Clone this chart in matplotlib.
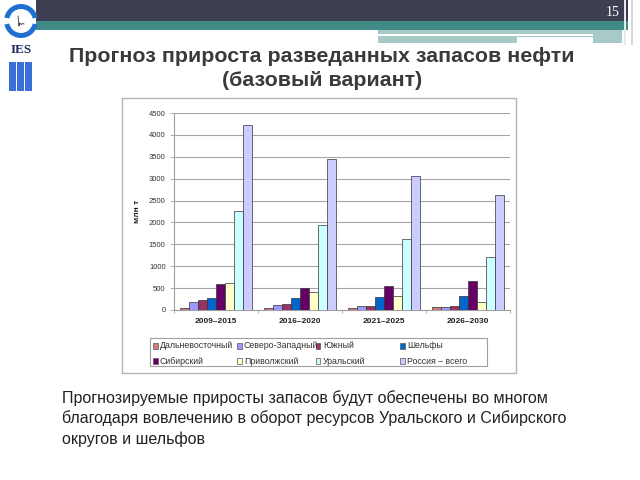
import numpy as np
import matplotlib
matplotlib.use("Agg")
import matplotlib.pyplot as plt
from matplotlib.patches import Rectangle, Wedge

plt.rcParams['font.family'] = ['Liberation Sans', 'DejaVu Sans']

# Data (млн т)
periods = ['2009–2015', '2016–2020', '2021–2025', '2026–2030']
series_names = ['Дальневосточный', 'Северо-Западный', 'Южный', 'Шельфы',
                'Сибирский', 'Приволжский', 'Уральский', 'Россия – всего']
far_east = [55, 50, 50, 70]
north_west = [175, 120, 100, 70]
south = [220, 140, 100, 80]
shelf = [275, 280, 300, 320]
siberia = [605, 500, 540, 660]
volga = [625, 400, 320, 190]
ural = [2260, 1950, 1630, 1210]
russia = [4230, 3440, 3050, 2630]
series_values = [far_east, north_west, south, shelf, siberia, volga, ural, russia]
colors = ['#d47a7a', '#9999ff', '#993366', '#0066cc',
          '#660066', '#ffffcc', '#ccffff', '#ccccff']

W, H = 640, 480
fig = plt.figure(figsize=(6.4, 4.8), dpi=100)

def fx(x):
    return x / W

def fy(y):
    return 1 - y / H

def frect(x0, y0, x1, y1, **kw):
    fig.patches.append(Rectangle((fx(x0), fy(y1)), fx(x1) - fx(x0), fy(y0) - fy(y1),
                                 transform=fig.transFigure, figure=fig, **kw))

# Slide header
frect(36, 0, 628, 21, facecolor='#3e3f52', edgecolor='none')
frect(36, 21, 628, 30, facecolor='#418a85', edgecolor='none')
frect(378, 30, 622, 43, facecolor='#a8cac7', edgecolor='none')
frect(378, 34, 593, 36, facecolor='white', edgecolor='none')
frect(517, 37, 593, 43, facecolor='white', edgecolor='none')
frect(624, 0, 626, 45, facecolor='#e8e8e8', edgecolor='none')
frect(631, 0, 633, 45, facecolor='#d8d8d8', edgecolor='none')
fig.text(fx(620), fy(13), '15', color='white', fontsize=10, ha='right', va='center',
         family='Liberation Serif')

# Logo
frect(0, 0, 36, 96, facecolor='white', edgecolor='none')
lax = fig.add_axes([fx(2), fy(40), fx(40) - fx(2), fy(2) - fy(40)])
lax.set_zorder(10)
lax.patch.set_alpha(0)
lax.set_xlim(-19, 19)
lax.set_ylim(-19, 19)
lax.set_aspect('equal')
lax.axis('off')
for a0, a1 in [(12, 168), (192, 348)]:
    lax.add_patch(Wedge((0, 0), 17, a0, a1, width=5, facecolor='#1f6fd2', edgecolor='none'))
lax.plot([-3, -2, -1.5, 0.5, 1.5, 3], [5, -5, -2, -3.5, -2.5, -3], color='#333333', lw=0.6)
fig.text(fx(21), fy(50), 'IES', color='#1b2a5a', fontsize=9.5, fontweight='bold',
         ha='center', va='center', family='Liberation Serif')
for x0 in [9, 17, 25]:
    frect(x0, 62, x0 + 7, 91, facecolor='#3a6fd8', edgecolor='none')

# Title
fig.text(fx(322), fy(57), 'Прогноз прироста разведанных запасов нефти', fontsize=15.4,
         fontweight='bold', color='#3a3a3a', ha='center', va='center')
fig.text(fx(322), fy(80), '(базовый вариант)', fontsize=15.4,
         fontweight='bold', color='#3a3a3a', ha='center', va='center')

# Chart frame
frect(122, 98, 516, 373, facecolor='white', edgecolor='#b4b4b4', lw=1, zorder=-5)

ax = fig.add_axes([fx(174), fy(310), fx(510) - fx(174), fy(113) - fy(310)])
ax.set_zorder(5)
n_series = len(series_values)
bar_w = 1 / (n_series + 1.4)
x = np.arange(len(periods))
for i, (vals, c) in enumerate(zip(series_values, colors)):
    ax.bar(x - n_series * bar_w / 2 + (i + 0.5) * bar_w, vals, bar_w, color=c,
           edgecolor='#333333', linewidth=0.5, zorder=3)

ax.set_xlim(-0.5, len(periods) - 0.5)
ax.set_ylim(0, 4500)
ax.set_yticks(np.arange(0, 4501, 500))
ax.yaxis.grid(True, color='#a6a6a6', lw=0.8, zorder=0)
ax.set_axisbelow(True)
for s in ['top', 'right']:
    ax.spines[s].set_visible(False)
for s in ['left', 'bottom']:
    ax.spines[s].set_color('#a0a0a0')
    ax.spines[s].set_linewidth(0.8)
ax.tick_params(axis='y', labelsize=5.5, colors='#a0a0a0', labelcolor='#333333',
               length=3, width=0.6, pad=3)
ax.set_xticks(np.arange(-0.5, len(periods)), labels=[''] * (len(periods) + 1))
ax.set_xticks(x, labels=periods, minor=True)
ax.tick_params(axis='x', which='major', length=2, width=0.6, colors='#a0a0a0')
ax.tick_params(axis='x', which='minor', length=0, labelsize=6, pad=6)
for lab in ax.get_xticklabels(minor=True):
    lab.set_fontweight('bold')
    lab.set_color('#222222')
ax.set_ylabel('млн т', fontsize=6, fontweight='bold', color='#222222', labelpad=6)

# Legend (Excel layout: equal-width columns, row-major)
frect(150, 338, 487, 366, facecolor='white', edgecolor='#a0a0a0', lw=0.8)
col_x = [155, 239, 318, 402]
row_y = [346, 361]
for i, (name, c) in enumerate(zip(series_names, colors)):
    cx = col_x[i % 4]
    cy = row_y[i // 4]
    frect(cx - 2.5, cy - 2.5, cx + 2.5, cy + 2.5, facecolor=c, edgecolor='#555555', lw=0.5)
    fig.text(fx(cx + 5), fy(cy), name, fontsize=6.3, color='#333333', ha='left', va='center')

# Bottom note
note = ['Прогнозируемые приросты запасов будут обеспечены во многом',
        'благодаря вовлечению в оборот ресурсов Уральского и Сибирского',
        'округов и шельфов']
for k, line in enumerate(note):
    fig.text(fx(62), fy(398 + k * 20.5), line, fontsize=11.5, color='#222222',
             ha='left', va='center')

fig.savefig('out.png', dpi=100, facecolor='white')
